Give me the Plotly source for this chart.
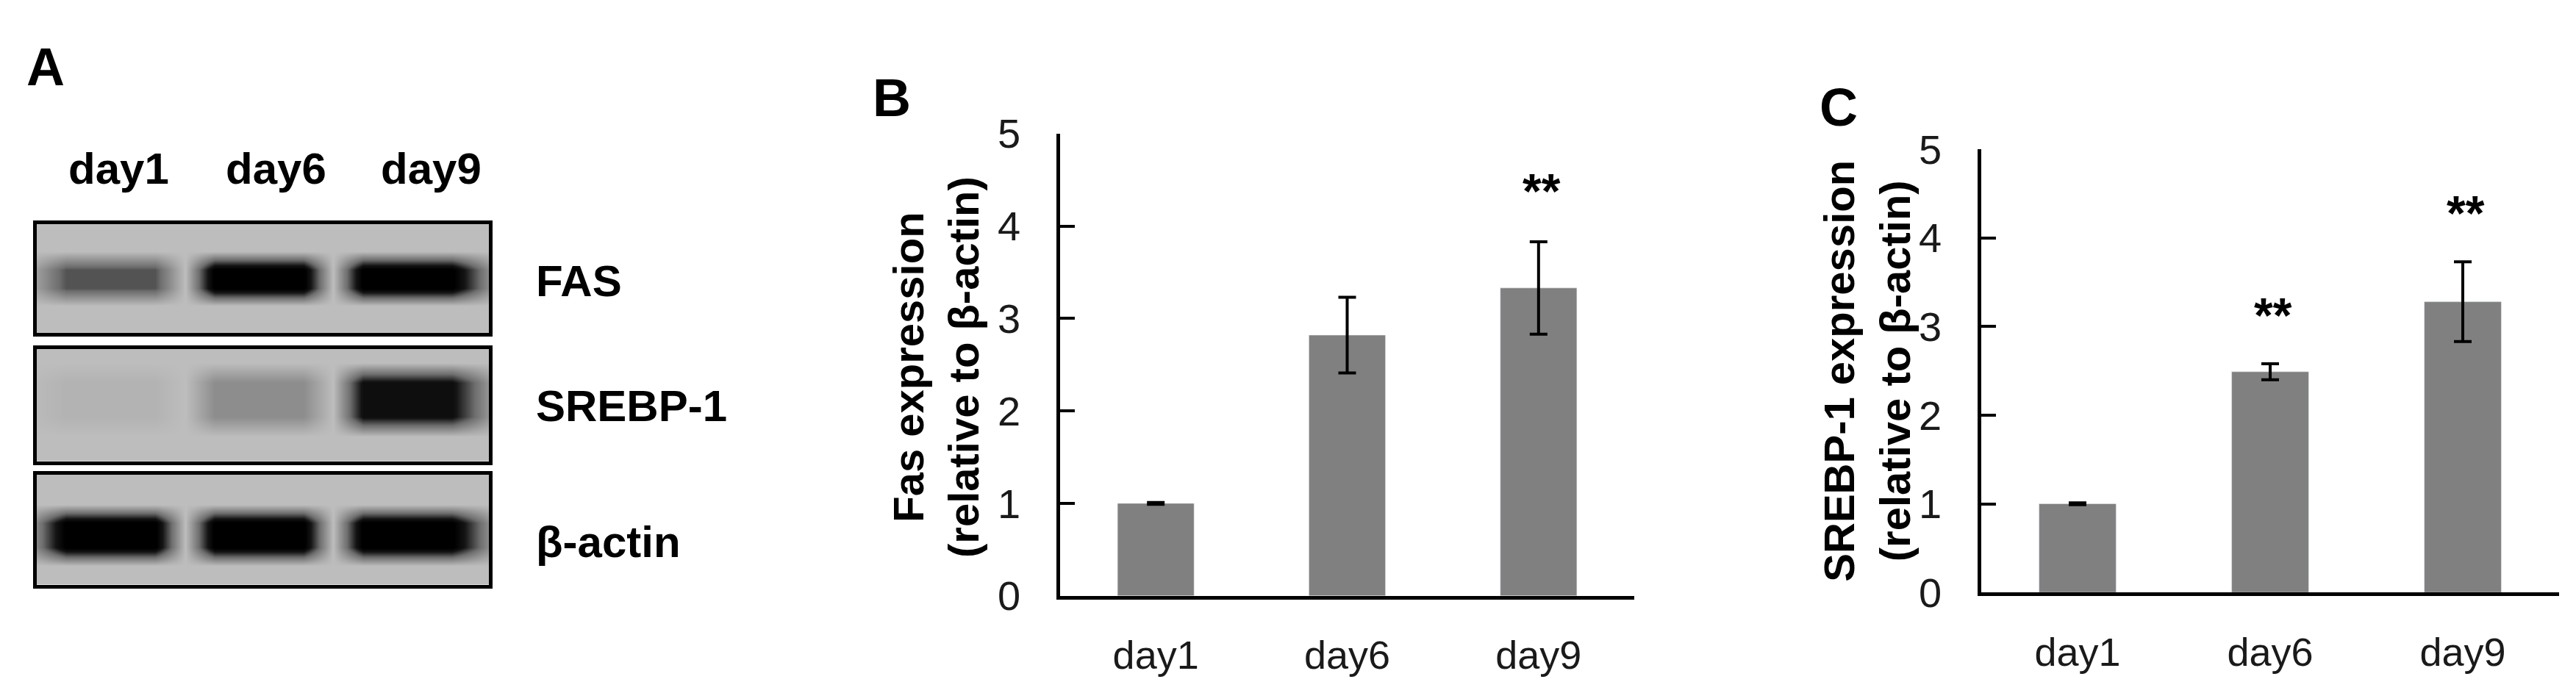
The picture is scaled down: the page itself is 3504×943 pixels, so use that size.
import plotly.graph_objects as go

# ---- data ----
days = ["day1", "day6", "day9"]

fas_mean = [1.0, 2.82, 3.33]
fas_err = [0.01, 0.41, 0.5]
fas_sig = ["", "", "**"]

srebp_mean = [1.0, 2.49, 3.28]
srebp_err = [0.01, 0.09, 0.45]
srebp_sig = ["", "**", "**"]

# western blot band darkness per lane (0 = background, 1 = black)
blot_names = ["FAS", "SREBP-1", "β-actin"]
fas_band = [0.55, 1.0, 1.0]
srebp_band = [0.06, 0.28, 0.82]
actin_band = [1.0, 1.0, 1.0]

W, H = 3504, 943
FONT = "Liberation Sans, Arial, sans-serif"


def px(x):
    return x / W


def py(y):
    return 1 - y / H


fig = go.Figure()

# ---- bar charts B and C ----
fig.add_trace(go.Bar(
    x=days, y=fas_mean, width=0.4, marker_color="#808080",
    error_y=dict(type="data", array=fas_err, color="black", thickness=4, width=12),
    xaxis="x", yaxis="y", showlegend=False))

fig.add_trace(go.Bar(
    x=days, y=srebp_mean, width=0.4, marker_color="#808080",
    error_y=dict(type="data", array=srebp_err, color="black", thickness=4, width=12),
    xaxis="x2", yaxis="y2", showlegend=False))

# ---- blots (panel A) ----
# lane layout: band plateau around each lane centre, background in between
lane_x = [-0.6, -0.3, 0.3, 0.5, 0.7, 1.3, 1.5, 1.7, 2.3, 2.65]
band_y = {"FAS": ([-1.1, -0.5, -0.17, 0.17, 0.5, 1.1], 0.0),
          "SREBP-1": ([-1.1, -0.65, -0.3, 0.3, 0.65, 1.1], 0.1),
          "β-actin": ([-1.1, -0.55, -0.22, 0.22, 0.55, 1.1], -0.1)}
row_on = [0, 0, 1, 1, 0, 0]


def lane_profile(band):
    return [0, band[0], band[0], 0, band[1], band[1], 0, band[2], band[2], 0]


blot_axes = [("x3", "y3"), ("x4", "y4"), ("x5", "y5")]
for name, band, (xa, ya) in zip(blot_names, [fas_band, srebp_band, actin_band], blot_axes):
    prof = lane_profile(band)
    ys, shift = band_y[name]
    z = [[0.04 + v * r for v in prof] for r in row_on]
    fig.add_trace(go.Heatmap(
        x=lane_x, y=[v + shift for v in ys], z=z, zmin=0, zmax=1, zsmooth="best",
        colorscale=[[0, "rgb(196,196,196)"], [0.5, "rgb(110,110,110)"], [0.8, "rgb(20,20,20)"], [1, "black"]],
        showscale=False, hoverinfo="skip", xaxis=xa, yaxis=ya))

# ---- layout ----
xcat = dict(type="category", categoryorder="array", categoryarray=days, range=[-0.5, 2.5],
            showline=True, linecolor="black", linewidth=4.5, ticks="", showgrid=False,
            zeroline=False, tickfont=dict(size=54, color="#1a1a1a", family=FONT),
            ticklabelstandoff=30)
yval = dict(range=[0, 5], dtick=1, showline=True, linecolor="black", linewidth=4.5,
            ticks="inside", ticklen=20, tickwidth=4, tickcolor="black", showgrid=False,
            zeroline=False, tickfont=dict(size=56, color="#1a1a1a", family=FONT),
            ticklabelstandoff=38)
blot_ax = dict(showline=True, mirror=True, linecolor="black", linewidth=5, showgrid=False,
               zeroline=False, showticklabels=False, ticks="")

fig.update_layout(
    width=W, height=H, margin=dict(l=0, r=0, t=0, b=0),
    paper_bgcolor="white", plot_bgcolor="white",
    font=dict(family=FONT, color="black"),
    xaxis=dict(xcat, domain=[px(1434), px(2215)], anchor="y"),
    yaxis=dict(yval, domain=[py(827), py(153)], anchor="x"),
    xaxis2=dict(xcat, domain=[px(2687), px(3473)], anchor="y2"),
    yaxis2=dict(yval, domain=[py(822), py(176)], anchor="x2"),
    xaxis3=dict(blot_ax, domain=[px(42), px(657)], range=[-0.5, 2.55], anchor="y3"),
    yaxis3=dict(blot_ax, domain=[py(444), py(285)], range=[-1, 1], anchor="x3"),
    xaxis4=dict(blot_ax, domain=[px(42), px(657)], range=[-0.5, 2.55], anchor="y4"),
    yaxis4=dict(blot_ax, domain=[py(631), py(467)], range=[-1, 1], anchor="x4"),
    xaxis5=dict(blot_ax, domain=[px(42), px(657)], range=[-0.5, 2.55], anchor="y5"),
    yaxis5=dict(blot_ax, domain=[py(811), py(650)], range=[-1, 1], anchor="x5"),
)

ann = []


def text(x, y, s, size, bold=True, xanchor="center", angle=0):
    ann.append(dict(x=px(x), y=py(y), xref="paper", yref="paper", text=f"<b>{s}</b>" if bold else s,
                    showarrow=False, xanchor=xanchor, yanchor="middle", textangle=angle,
                    font=dict(size=size, family=FONT, color="black")))


# panel letters
text(54, 56, "A", 72)
text(1205, 101, "B", 72)
text(2493, 115, "C", 72)

# lane labels and blot names
for d, cx in zip(days, [153, 367, 578]):
    text(cx, 204, d, 60)
for name, cy in zip(blot_names, [368, 550, 749]):
    text(719, cy, name, 60, xanchor="left")

# axis titles
text(1265, 494, "Fas expression<br>(relative to β-actin)", 58, angle=-90)
text(2531, 499, "SREBP-1 expression<br>(relative to β-actin)", 58, angle=-90)

# significance marks
for xa, ya, m, e, sig in [("x", "y", fas_mean, fas_err, fas_sig), ("x2", "y2", srebp_mean, srebp_err, srebp_sig)]:
    for d, mv, ev, s in zip(days, m, e, sig):
        if s:
            ann.append(dict(x=d, y=mv + ev + 0.55, xref=xa, yref=ya, text=f"<b>{s}</b>", showarrow=False,
                            xanchor="center", yanchor="middle", xshift=4,
                            font=dict(size=66, family=FONT, color="black")))

fig.update_layout(annotations=ann)
fig.write_html("out.html")
